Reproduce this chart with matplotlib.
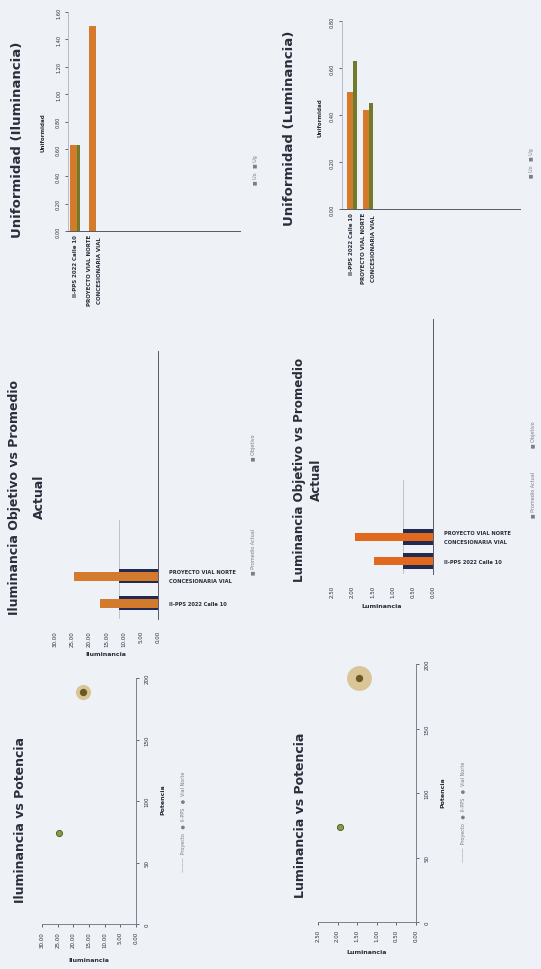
import matplotlib
matplotlib.use("Agg")
import matplotlib.pyplot as plt
import numpy as np

# ---------------- data ----------------
proyectos = ['II-PPS 2022 Calle 10', 'PROYECTO VIAL NORTE\nCONCESIONARIA VIAL']
potencia = [189, 74]
ilum_actual = [17.0, 24.5]
ilum_objetivo = [11.5, 11.5]
lum_actual = [1.46, 1.94]
lum_objetivo = [0.75, 0.75]
unif_ilum_uo = [0.63, 1.50]
unif_ilum_ug = [0.63, 0.0]
unif_lum_uo = [0.50, 0.42]
unif_lum_ul = [0.63, 0.45]

ilum_ticks = [0, 5, 10, 15, 20, 25, 30]
lum_ticks = [0, 0.5, 1.0, 1.5, 2.0, 2.5]
pot_ticks = [0, 50, 100, 150, 200]
unif_ilum_ticks = [0, 0.2, 0.4, 0.6, 0.8, 1.0, 1.2, 1.4, 1.6]
unif_lum_ticks = [0, 0.2, 0.4, 0.6, 0.8]

# ---------------- style ----------------
W, H = 541, 970
BG = '#eef1f6'
TXT = '#2b2d3a'
AXC = '#7d8090'
ORANGE = '#d47a2c'
ORANGE_E = '#e0691e'
NAVY = '#222a52'
OLIVE = '#6f7a2a'
GOLD = '#c9a24a'
LEG = '#7a7d8b'
plt.rcParams['font.family'] = ['DejaVu Sans']

fig = plt.figure(figsize=(W / 100, H / 100), dpi=100, facecolor=BG)


def axpx(x0, x1, yt, yb):
    ax = fig.add_axes([x0 / W, 1 - yb / H, (x1 - x0) / W, (yb - yt) / H])
    ax.set_facecolor('none')
    for s in ax.spines.values():
        s.set_visible(False)
        s.set_color(AXC)
        s.set_linewidth(0.7)
    ax.tick_params(length=2, labelsize=4, colors=TXT, pad=3, width=0.5)
    return ax


def ftext(x, y, s, **kw):
    kw.setdefault('color', TXT)
    kw.setdefault('ha', 'center')
    kw.setdefault('va', 'center')
    fig.text(x / W, 1 - y / H, s, **kw)


def scatter_chart(x0, x1, yt, yb, vals, xt, fmt, glow, title, tx, ty, plab, lab, lx, ly, legx, legy):
    ax = axpx(x0, x1, yt, yb)
    ax.set_xlim(xt[-1], 0)
    ax.set_ylim(0, 200)
    ax.spines['right'].set_visible(True)
    ax.spines['bottom'].set_visible(True)
    ax.yaxis.tick_right()
    ax.set_yticks(pot_ticks)
    ax.set_yticklabels([str(v) for v in pot_ticks], rotation=90, va='center')
    ax.set_xticks(xt)
    ax.set_xticklabels([fmt.format(v) for v in xt], rotation=90)
    ax.tick_params(axis='y', pad=4)
    ax.scatter([vals[0]], [potencia[0]], s=glow, color=GOLD, alpha=0.55, lw=0, clip_on=False)
    ax.scatter([vals[0]], [potencia[0]], s=28, color='#6a5a22', lw=0, clip_on=False)
    ax.scatter([vals[1]], [potencia[1]], s=20, color='#8c9a40', edgecolor='#4d5520', lw=0.6, clip_on=False)
    ftext(tx, ty, title, rotation=90, fontsize=9, fontweight='bold')
    ftext(plab[0], plab[1], 'Potencia', rotation=90, fontsize=4.5, fontweight='bold')
    ftext(lx, ly, lab, fontsize=4.5, fontweight='bold')
    ftext(legx, legy, '———  Proyecto   ●  II-PPS   ●  Vial Norte', rotation=90, fontsize=3.5, color=LEG)


def obj_chart(x0, x1, yt, yb, ymin, ymax, obj, act, xt, fmt, hn, ho, col, title1, title2, t1, t2, tfs,
              lab, labpos, legx, legy):
    ax = axpx(x0, x1, yt, yb)
    ax.set_xlim(xt[-1], 0)
    ax.set_ylim(ymin, ymax)
    ax.spines['right'].set_visible(True)
    ax.spines['right'].set_color('#555866')
    y = np.arange(len(proyectos))
    ax.barh(y, obj, height=hn, color=NAVY, zorder=2)
    ax.barh(y, act, height=ho, color=col, zorder=3)
    ax.axvline(obj[0], ymin=0, ymax=0.37, color='#b9bcc8', lw=0.6, zorder=1)
    ax.yaxis.tick_right()
    ax.set_yticks(y)
    ax.set_yticklabels(proyectos, fontsize=3.7, fontweight='bold', va='center', linespacing=2.0)
    ax.tick_params(axis='y', length=0, pad=8)
    ax.set_xticks(xt)
    ax.set_xticklabels([fmt.format(v) for v in xt], rotation=90)
    ax.tick_params(axis='x', length=0, pad=8)
    ftext(t1[0], t1[1], title1, rotation=90, fontsize=tfs, fontweight='bold')
    ftext(t2[0], t2[1], title2, rotation=90, fontsize=tfs, fontweight='bold')
    ftext(labpos[0], labpos[1], lab, fontsize=4.5, fontweight='bold')
    ftext(legx, legy[0], '■ Promedio Actual', rotation=90, fontsize=3.5, color=LEG)
    ftext(legx, legy[1], '■ Objetivo', rotation=90, fontsize=3.5, color=LEG)


def unif_chart(x0, x1, yt, yb, xmin, xmax, a, b, yt_list, o1, w1, o2, w2, title, tpos, labpos, legpos):
    ax = axpx(x0, x1, yt, yb)
    ax.set_xlim(xmin, xmax)
    ax.set_ylim(0, yt_list[-1])
    ax.spines['left'].set_visible(True)
    ax.spines['left'].set_color('#b8bbc6')
    ax.spines['bottom'].set_visible(True)
    ax.spines['bottom'].set_color('#555866')
    x = np.arange(len(proyectos))
    ax.bar(x + o1, a, width=w1, color=ORANGE, zorder=3)
    ax.bar(x + o2, b, width=w2, color=OLIVE, zorder=3)
    ax.set_yticks(yt_list)
    ax.set_yticklabels(['{:.2f}'.format(v) for v in yt_list], rotation=90, va='center', fontsize=3.6)
    ax.tick_params(axis='y', pad=3)
    ax.set_xticks(x)
    ax.set_xticklabels(proyectos, rotation=90, fontsize=4.0, fontweight='bold', va='top', ha='center',
                       multialignment='center', linespacing=2.2)
    ax.tick_params(axis='x', length=0, pad=2)
    ftext(tpos[0], tpos[1], title, rotation=90, fontsize=9.5, fontweight='bold')
    ftext(labpos[0], labpos[1], 'Uniformidad', rotation=90, fontsize=4, fontweight='bold')
    ftext(legpos[0], legpos[1], '■ Uo   ■ Ug', rotation=90, fontsize=3.5, color=LEG)


# ---------- Iluminancia column (left) ----------
scatter_chart(42, 136, 679, 925, ilum_actual, ilum_ticks, '{:.2f}', 120, 'Iluminancia vs Potencia', 21, 820,
              (163, 800), 'Iluminancia', 89, 961, 183, 822)
obj_chart(55, 158, 352, 620, -0.59, 9.33, ilum_objetivo, ilum_actual, ilum_ticks, '{:.2f}', 0.52, 0.33, ORANGE,
          'Iluminancia Objetivo vs Promedio', 'Actual', (15, 498), (39, 497), 9, 'Iluminancia', (106, 655),
          253, (552, 448))
unif_chart(68, 240, 13, 232, -0.39, 8.66, unif_ilum_uo, unif_ilum_ug, unif_ilum_ticks,
           -0.105, 0.37, 0.17, 0.18, 'Uniformidad (Iluminancia)', (18, 140), (43, 133), (255, 170))

# ---------- Luminancia column (right) ----------
scatter_chart(318, 416, 665, 923, lum_actual, lum_ticks, '{:.2f}', 320, 'Luminancia vs Potencia', 301, 815,
              (443, 793), 'Luminancia', 367, 953, 463, 812)
obj_chart(332, 433, 320, 575, -0.54, 10.08, lum_objetivo, lum_actual, lum_ticks, '{:.2f}', 0.67, 0.37, ORANGE_E,
          'Luminancia Objetivo vs Promedio', 'Actual', (299, 470), (316, 480), 8.6, 'Luminancia', (382, 607),
          533, (495, 435))
unif_chart(342, 520, 22, 210, -0.6, 10.2, unif_lum_uo, unif_lum_ul, unif_lum_ticks,
           -0.12, 0.36, 0.18, 0.24, 'Uniformidad (Luminancia)', (290, 128), (320, 118), (532, 163))

fig.savefig('out.png', dpi=100, facecolor=BG)
